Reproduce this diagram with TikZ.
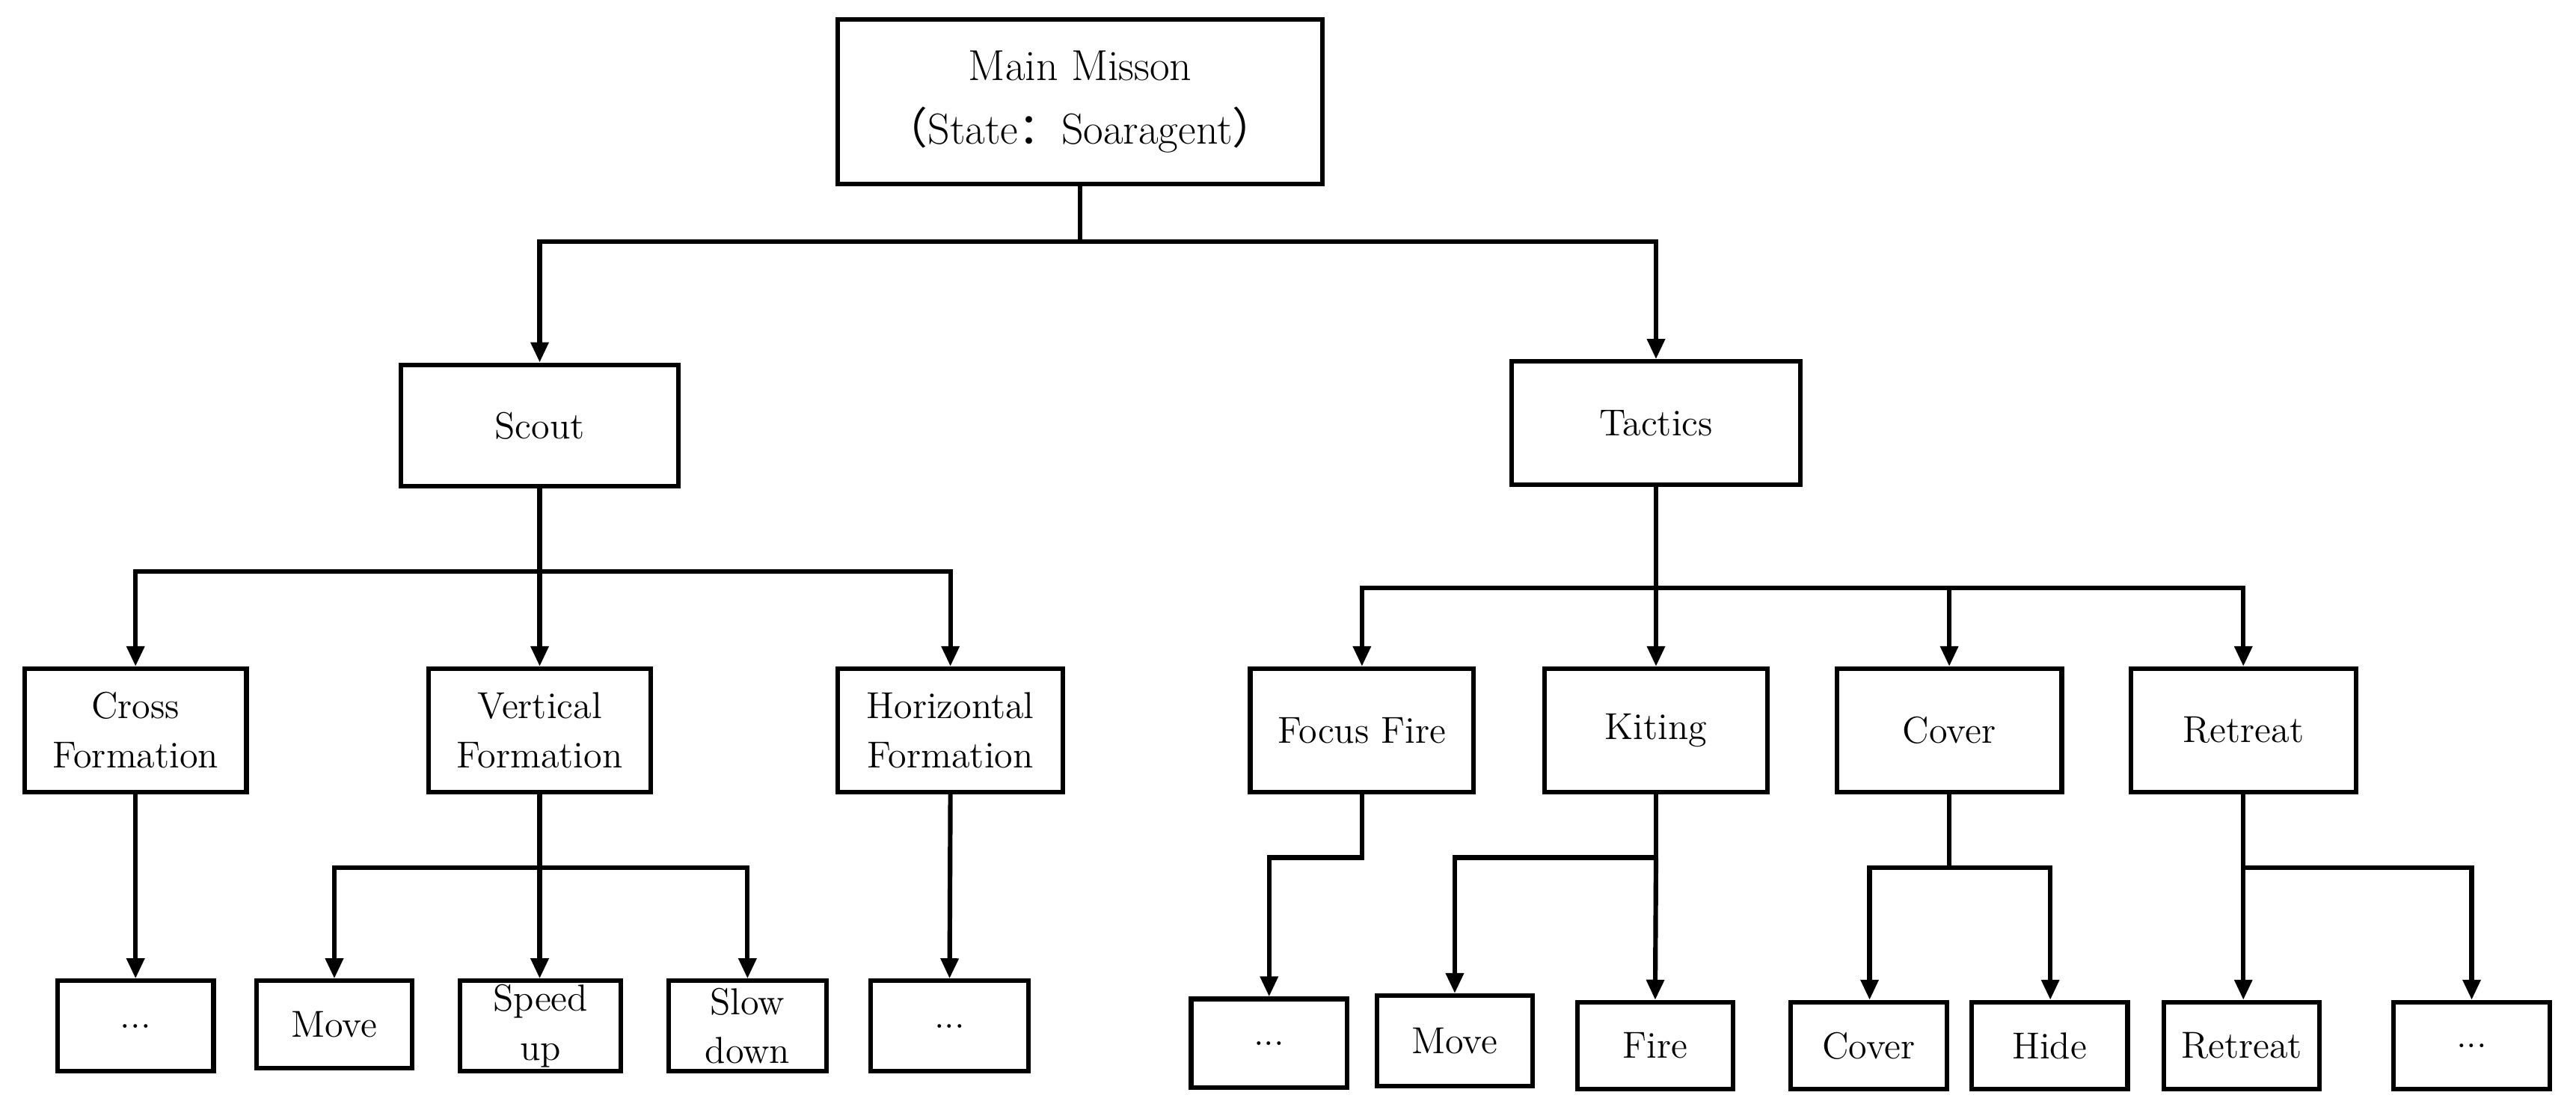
\documentclass[tikz,border=0pt]{standalone}
\usepackage{fontspec}
\newfontfamily\cjkf{Noto Sans CJK SC}
\usetikzlibrary{arrows.meta}
\begin{document}
\begin{tikzpicture}[x=0.02cm,y=-0.02cm,
  bx/.style={draw,line width=1.6pt,align=center,font=\fontsize{13}{17}\selectfont,inner sep=0pt},
  ln/.style={line width=1.6pt},
  arr/.style={ln,-{Triangle[length=7pt,width=6pt]}}]
\useasboundingbox (0,0) rectangle (1568,681);
\newcommand\bx[6]{\node[bx,minimum width=(#4-#2)*0.02cm,minimum height=(#5-#3)*0.02cm] (#1) at ({(#2+#4)/2},{(#3+#5)/2}) {#6};}
\node[bx,minimum width=5.9cm,minimum height=2cm,font=\fontsize{15}{22}\selectfont] (main) at (657.5,62) {Main Misson\\{\cjkf （}State{\cjkf ：}Soaragent{\cjkf ）}};
\bx{scout}{244}{222}{413}{296}{Scout}
\bx{tactics}{920}{220}{1096}{295}{Tactics}
\bx{cross}{15}{407}{150}{482}{Cross\\Formation}
\bx{vert}{261}{407}{396}{482}{Vertical\\Formation}
\bx{horiz}{510}{407}{647}{482}{Horizontal\\Formation}
\bx{d1}{35}{597}{130}{652}{...}
\bx{move1}{156}{597}{251}{650}{Move}
\bx{speed}{280}{597}{378}{652}{Speed\\up}
\bx{slow}{407}{597}{503}{652}{Slow\\down}
\bx{d2}{530}{597}{626}{652}{...}
\bx{focus}{761}{407}{897}{482}{Focus Fire}
\bx{kiting}{940}{407}{1076}{482}{Kiting}
\bx{cover}{1118}{407}{1255}{482}{Cover}
\bx{retreat}{1297}{407}{1434}{482}{Retreat}
\bx{d3}{725}{608}{820}{662}{...}
\bx{move2}{838}{606}{933}{661}{Move}
\bx{fire}{960}{610}{1055}{663}{Fire}
\bx{cover2}{1090}{610}{1185}{663}{Cover}
\bx{hide}{1200}{610}{1295}{663}{Hide}
\bx{retreat2}{1317}{610}{1412}{663}{Retreat}
\bx{d4}{1457}{610}{1552}{663}{...}
\coordinate (j0) at (657.5,147);
\draw[arr] (main.south) -- (j0) -| (scout.north);
\draw[arr] (j0) -| (tactics.north);
\coordinate (j1) at (328.5,348);
\draw[ln] (scout.south) -- (j1);
\draw[arr] (j1) -| (cross.north);
\draw[arr] (j1) -- (vert.north);
\draw[arr] (j1) -| (horiz.north);
\draw[arr] (cross.south) -- (d1.north);
\draw[arr] (horiz.south) -- (d2.north);
\coordinate (j2) at (328.5,528);
\draw[ln] (vert.south) -- (j2);
\draw[arr] (j2) -| (move1.north);
\draw[arr] (j2) -- (speed.north -| j2);
\draw[arr] (j2) -| (slow.north);
\coordinate (j3) at (1008,358);
\draw[ln] (tactics.south) -- (j3);
\draw[arr] (j3) -| (focus.north);
\draw[arr] (j3) -- (kiting.north);
\draw[arr] (j3) -| (cover.north);
\draw[arr] (j3) -| (retreat.north);
\coordinate (j4) at (829,522);
\draw[arr] (focus.south) -- (j4) -| (d3.north);
\coordinate (j5) at (1008,522);
\draw[ln] (kiting.south) -- (j5);
\draw[arr] (j5) -| (move2.north);
\draw[arr] (j5) -- (fire.north);
\coordinate (j6) at (1186.5,528);
\draw[ln] (cover.south) -- (j6);
\draw[arr] (j6) -| (cover2.north -| 1138,0);
\draw[arr] (j6) -| (hide.north -| 1248,0);
\coordinate (j7) at (1365.5,528);
\draw[ln] (retreat.south) -- (j7);
\draw[arr] (j7) -- (retreat2.north -| j7);
\draw[arr] (j7) -| (d4.north);
\end{tikzpicture}
\end{document}
